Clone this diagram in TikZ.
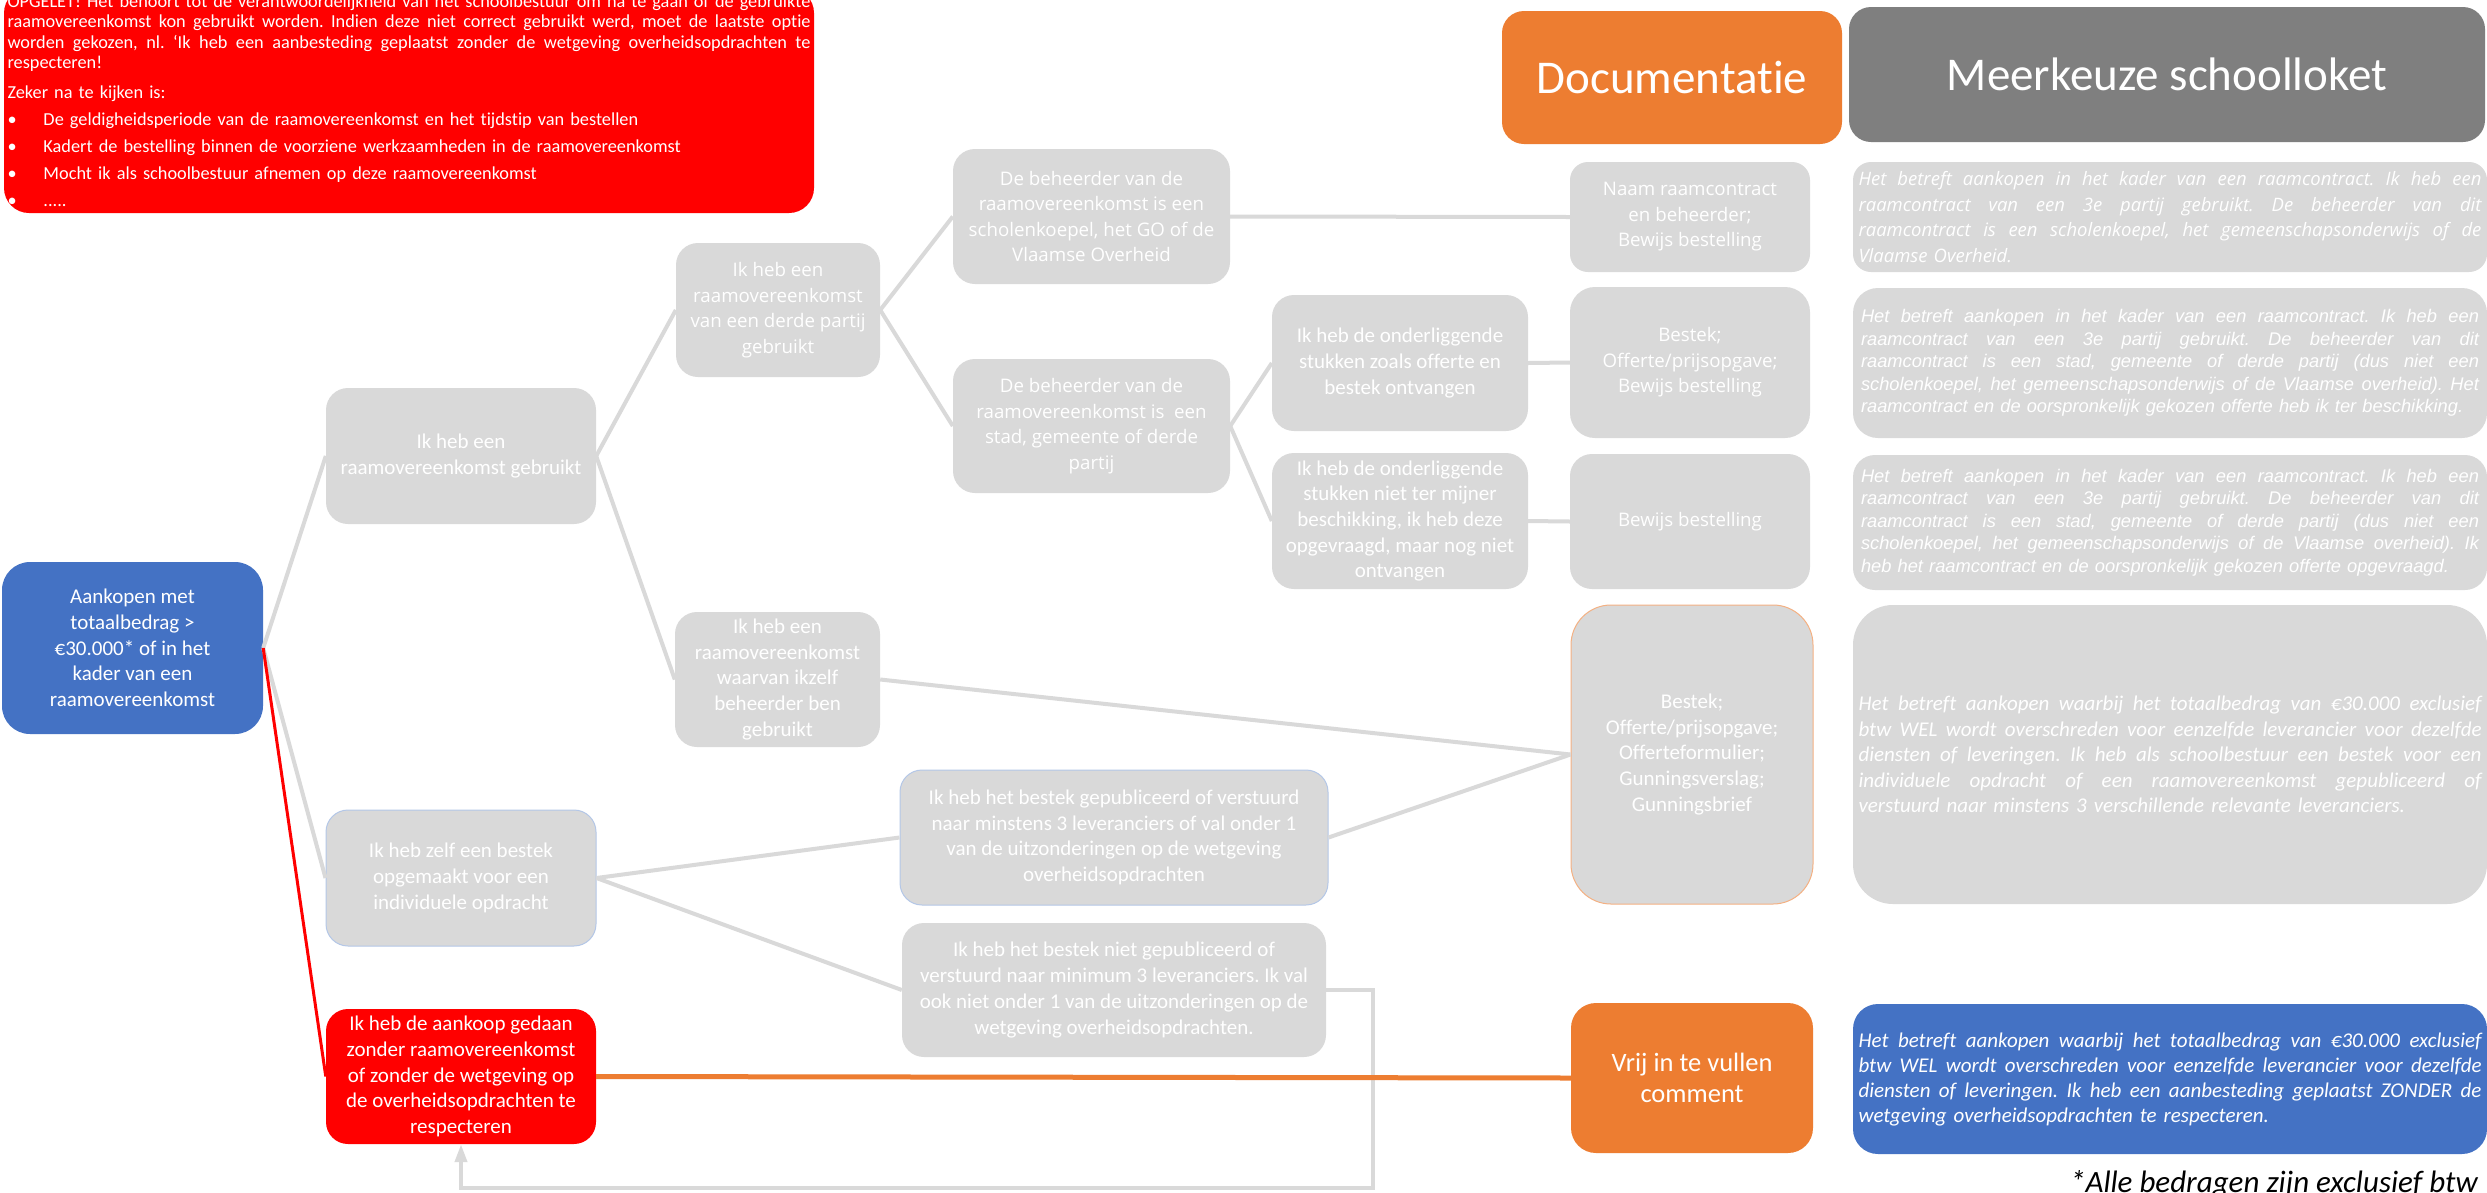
\documentclass[tikz,border=0pt]{standalone}
\usepackage{fontspec}
\setmainfont{Carlito}[Ligatures=NoCommon]
\newfontfamily\osans{Open Sans}[Ligatures=NoCommon]
\newfontfamily\lsans{Liberation Sans}[Ligatures=NoCommon]
\usetikzlibrary{arrows.meta}
\definecolor{gbg}{HTML}{D9D9D9}
\definecolor{gline}{HTML}{D9D9D9}
\definecolor{cblue}{HTML}{4472C4}
\definecolor{corange}{HTML}{ED7D31}
\definecolor{cred}{HTML}{FF0000}
\definecolor{cdgray}{HTML}{7F7F7F}
\definecolor{bluebord}{HTML}{B4C7E7}
\definecolor{orbord}{HTML}{F4B183}
\frenchspacing
\newcommand{\JL}[1]{\leavevmode\hbox to \linewidth{\spaceskip=\fontdimen2\font plus 1fil\relax #1}}
\newcommand{\LL}[1]{\leavevmode\hbox{#1}}
\newcommand{\BL}[1]{\leavevmode\makebox[36pt][l]{•}#1}
\tikzset{
  nd/.style={rectangle, inner sep=0pt, text=white, align=center},
  gbox/.style={nd, fill=gbg},
  calf/.style={font=\fontsize{21}{25.7}\selectfont},
  osf/.style={font=\osans\fontsize{18.7}{25.5}\selectfont},
  conn/.style={draw=gline, line width=4pt},
}
\begin{document}
\begin{tikzpicture}[x=1pt,y=-1pt]
\fill[white] (0,0) rectangle (2487,1192);
\useasboundingbox (0,0) rectangle (2487,1192);

% warning box
\node[nd, fill=cred, minimum width=810pt, minimum height=225pt, rounded corners=25pt,
      text width=803pt, align=left, font=\fontsize{18.3}{20.5}\selectfont] (warn) at (409,100.5) {%
\JL{OPGELET! Het behoort tot de verantwoordelijkheid van het schoolbestuur om na te gaan of de gebruikte}\\
\JL{raamovereenkomst kon gebruikt worden. Indien deze niet correct gebruikt werd, moet de laatste optie}\\
\JL{worden gekozen, nl. ‘Ik heb een aanbesteding geplaatst zonder de wetgeving overheidsopdrachten te}\\
respecteren!\\[9.5pt]
Zeker na te kijken is:\\[6.5pt]
\BL{De geldigheidsperiode van de raamovereenkomst en het tijdstip van bestellen}\\[6.5pt]
\BL{Kadert de bestelling binnen de voorziene werkzaamheden in de raamovereenkomst}\\[6.5pt]
\BL{Mocht ik als schoolbestuur afnemen op deze raamovereenkomst}\\[6.5pt]
\BL{.....}};

% headers
\node[nd, fill=corange, minimum width=340pt, minimum height=133pt, rounded corners=22pt,
      font=\fontsize{47}{56}\selectfont] (hdoc) at (1672,77.5) {Documentatie};
\node[nd, fill=cdgray, minimum width=636pt, minimum height=135pt, rounded corners=22pt,
      font=\fontsize{47}{56}\selectfont] (hmk) at (2167,74.5) {Meerkeuze schoolloket};

% tree
\node[nd, fill=cblue, calf, minimum width=261pt, minimum height=172pt, rounded corners=28pt] (A) at (132.5,648)
  {Aankopen met\\totaalbedrag >\\€30.000* of in het\\kader van een\\raamovereenkomst};
\node[gbox, calf, minimum width=270pt, minimum height=136pt, rounded corners=22pt] (B1) at (461,456)
  {Ik heb een\\raamovereenkomst gebruikt};
\node[gbox, calf, draw=bluebord, line width=1pt, minimum width=270pt, minimum height=136pt, rounded corners=22pt] (B2) at (461,878)
  {Ik heb zelf een bestek\\opgemaakt voor een\\individuele opdracht};
\node[nd, fill=cred, calf, minimum width=270pt, minimum height=135pt, rounded corners=22pt] (B3) at (461,1076.5)
  {Ik heb de aankoop gedaan\\zonder raamovereenkomst\\of zonder de wetgeving op\\de overheidsopdrachten te\\respecteren};
\node[gbox, osf, minimum width=204pt, minimum height=134pt, rounded corners=22pt] (C1) at (778,310)
  {Ik heb een\\raamovereenkomst\\van een derde partij\\gebruikt};
\node[gbox, calf, minimum width=205pt, minimum height=135pt, rounded corners=22pt] (C2) at (777.5,679.5)
  {Ik heb een\\raamovereenkomst\\waarvan ikzelf\\beheerder ben\\gebruikt};
\node[gbox, osf, minimum width=277pt, minimum height=135pt, rounded corners=22pt] (D1) at (1091.5,216.5)
  {De beheerder van de\\raamovereenkomst is een\\scholenkoepel, het GO of de\\Vlaamse Overheid};
\node[gbox, osf, minimum width=277pt, minimum height=134pt, rounded corners=22pt] (D2) at (1091.5,426)
  {De beheerder van de\\raamovereenkomst is \ een\\stad, gemeente of derde\\partij};
\node[gbox, calf, minimum width=256pt, minimum height=136pt, rounded corners=22pt] (E1) at (1400,363)
  {Ik heb de onderliggende\\stukken zoals offerte en\\bestek ontvangen};
\node[gbox, calf, minimum width=256pt, minimum height=136pt, rounded corners=22pt] (E2) at (1400,521)
  {Ik heb de onderliggende\\stukken niet ter mijner\\beschikking, ik heb deze\\opgevraagd, maar nog niet\\ontvangen};
\node[gbox, calf, draw=bluebord, line width=1pt, minimum width=428pt, minimum height=135pt, rounded corners=22pt] (F1) at (1114,837.5)
  {Ik heb het bestek gepubliceerd of verstuurd\\naar minstens 3 leveranciers of val onder 1\\van de uitzonderingen op de wetgeving\\overheidsopdrachten};
\node[gbox, calf, minimum width=424pt, minimum height=134pt, rounded corners=22pt] (F2) at (1114,990)
  {Ik heb het bestek niet gepubliceerd of\\verstuurd naar minimum 3 leveranciers. Ik val\\ook niet onder 1 van de uitzonderingen op de\\wetgeving overheidsopdrachten.};

% documentation column
\node[gbox, osf, minimum width=240pt, minimum height=110pt, rounded corners=18pt] (Doc1) at (1690,217)
  {Naam raamcontract\\en beheerder;\\Bewijs bestelling};
\node[gbox, osf, minimum width=240pt, minimum height=151pt, rounded corners=25pt] (Doc2) at (1690,362.5)
  {Bestek;\\Offerte/prijsopgave;\\Bewijs bestelling};
\node[gbox, osf, minimum width=240pt, minimum height=135pt, rounded corners=22pt] (Doc3) at (1690,521.5)
  {Bewijs bestelling};
\node[gbox, calf, draw=orbord, line width=1pt, minimum width=242pt, minimum height=299pt, rounded corners=40pt] (Doc4) at (1692,754.5)
  {Bestek;\\Offerte/prijsopgave;\\Offerteformulier;\\Gunningsverslag;\\Gunningsbrief};
\node[nd, fill=corange, font=\fontsize{26.5}{31}\selectfont, minimum width=242pt, minimum height=150pt, rounded corners=25pt] (Vrij) at (1692,1078)
  {Vrij in te vullen\\comment};

% multiple choice column
\node[gbox, minimum width=634pt, minimum height=110pt, rounded corners=18pt, text width=623pt, align=left,
      font=\osans\itshape\fontsize{18.5}{25.5}\selectfont] (R1) at (2170,217) {%
\JL{Het betreft aankopen in het kader van een raamcontract. Ik heb een}\\
\JL{raamcontract van een 3e partij gebruikt. De beheerder van dit}\\
\JL{raamcontract is een scholenkoepel, het gemeenschapsonderwijs of de}\\
\LL{Vlaamse Overheid.}};
\node[gbox, minimum width=634pt, minimum height=150pt, rounded corners=25pt, text width=618pt, align=left,
      font=\lsans\itshape\fontsize{18.3}{22.5}\selectfont] (R2) at (2170,363) {%
\JL{Het betreft aankopen in het kader van een raamcontract. Ik heb een}\\
\JL{raamcontract van een 3e partij gebruikt. De beheerder van dit}\\
\JL{raamcontract is een stad, gemeente of derde partij (dus niet een}\\
\JL{scholenkoepel, het gemeenschapsonderwijs of de Vlaamse overheid). Het}\\
\LL{raamcontract en de oorspronkelijk gekozen offerte heb ik ter beschikking.}};
\node[gbox, minimum width=634pt, minimum height=135pt, rounded corners=22pt, text width=618pt, align=left,
      font=\lsans\itshape\fontsize{18.3}{22.5}\selectfont] (R3) at (2170,522.5) {%
\JL{Het betreft aankopen in het kader van een raamcontract. Ik heb een}\\
\JL{raamcontract van een 3e partij gebruikt. De beheerder van dit}\\
\JL{raamcontract is een stad, gemeente of derde partij (dus niet een}\\
\JL{scholenkoepel, het gemeenschapsonderwijs of de Vlaamse overheid). Ik}\\
\LL{heb het raamcontract en de oorspronkelijk gekozen offerte opgevraagd.}};
\node[gbox, minimum width=634pt, minimum height=299pt, rounded corners=40pt, text width=623pt, align=left,
      font=\itshape\fontsize{21}{25.6}\selectfont] (R4) at (2170,754.5) {%
\JL{Het betreft aankopen waarbij het totaalbedrag van €30.000 exclusief}\\
\JL{btw WEL wordt overschreden voor eenzelfde leverancier voor dezelfde}\\
\JL{diensten of leveringen. Ik heb als schoolbestuur een bestek voor een}\\
\JL{individuele opdracht of een raamovereenkomst gepubliceerd of}\\
\LL{verstuurd naar minstens 3 verschillende relevante leveranciers.}};
\node[nd, fill=cblue, minimum width=634pt, minimum height=150pt, rounded corners=25pt, text width=623pt, align=left,
      font=\itshape\fontsize{21}{25}\selectfont] (R5) at (2170,1079) {%
\JL{Het betreft aankopen waarbij het totaalbedrag van €30.000 exclusief}\\
\JL{btw WEL wordt overschreden voor eenzelfde leverancier voor dezelfde}\\
\JL{diensten of leveringen. Ik heb een aanbesteding geplaatst ZONDER de}\\
\LL{wetgeving overheidsopdrachten te respecteren.}};

\node[anchor=base east, inner sep=0pt, text=black, font=\itshape\fontsize{31}{37}\selectfont] (note) at (2478,1192)
  {*Alle bedragen zijn exclusief btw};

% connectors
\draw[conn] (A.east) -- (B1.west);
\draw[conn] (A.east) -- (B2.west);
\draw[conn] (B1.east) -- (C1.west);
\draw[conn] (B1.east) -- (C2.west);
\draw[conn] (C1.east) -- (D1.west);
\draw[conn] (C1.east) -- (D2.west);
\draw[conn] (D1.east) -- (Doc1.west);
\draw[conn] (D2.east) -- (E1.west);
\draw[conn] (D2.east) -- (E2.west);
\draw[conn] (E1.east) -- (Doc2.west);
\draw[conn] (E2.east) -- (Doc3.west);
\draw[conn] (C2.east) -- (Doc4.west);
\draw[conn] (B2.east) -- (F1.west);
\draw[conn] (B2.east) -- (F2.west);
\draw[conn] (F1.east) -- (Doc4.west);
\coordinate (loopR) at (1373,1188);
\draw[conn, -{Triangle[length=18pt,width=12pt]}] (F2.east) -| (loopR) -- (B3.south |- loopR) -- (B3.south);
\draw[draw=cred, line width=3pt] (A.east) -- (B3.west);
\draw[draw=corange, line width=5pt] (B3.east) -- (Vrij.west);
\end{tikzpicture}
\end{document}
